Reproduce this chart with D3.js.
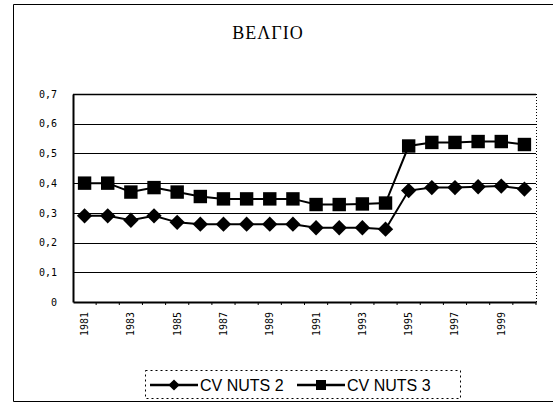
<!DOCTYPE html>
<html>
<head>
<meta charset="utf-8">
<script src="https://cdn.jsdelivr.net/npm/d3@7"></script>
<style>
  body { margin: 0; background: #fff; }
  svg { display: block; }
</style>
</head>
<body>
<svg id="chart" width="556" height="410"></svg>
<script>
// data
const years = d3.range(1981, 2001);
const cvNuts2 = [0.29, 0.29, 0.275, 0.29, 0.268, 0.262, 0.262, 0.262, 0.262, 0.262,
                 0.25, 0.25, 0.25, 0.245, 0.375, 0.385, 0.385, 0.388, 0.39, 0.38];
const cvNuts3 = [0.40, 0.40, 0.37, 0.385, 0.37, 0.355, 0.347, 0.347, 0.347, 0.347,
                 0.328, 0.328, 0.33, 0.333, 0.525, 0.537, 0.537, 0.54, 0.54, 0.53];
const yTicks = [0, 0.1, 0.2, 0.3, 0.4, 0.5, 0.6, 0.7];
const seriesNames = ["CV NUTS 2", "CV NUTS 3"];

const svg = d3.select("#chart");
const plot = { left: 73, right: 536, top: 94, bottom: 302 };

// outer frame (left, top, bottom edges of the scan)
svg.append("path")
  .attr("d", "M553,4.5H13.5V401.5H553")
  .attr("fill", "none")
  .attr("stroke", "#000")
  .attr("stroke-width", 1);

svg.append("text")
  .attr("x", 268)
  .attr("y", 39)
  .attr("text-anchor", "middle")
  .attr("font-family", "Liberation Serif, DejaVu Serif, serif")
  .attr("font-size", 18)
  .attr("letter-spacing", 1)
  .text("ΒΕΛΓΙΟ");

const x = d3.scaleBand().domain(years).range([plot.left, plot.right]);
const y = d3.scaleLinear().domain([0, 0.7]).range([plot.bottom, plot.top]);

// gridlines
svg.append("g")
  .selectAll("line")
  .data(yTicks.filter(d => d > 0))
  .join("line")
  .attr("x1", plot.left)
  .attr("x2", plot.right)
  .attr("y1", d => Math.round(y(d)) + 0.5)
  .attr("y2", d => Math.round(y(d)) + 0.5)
  .attr("stroke", "#000")
  .attr("stroke-width", 1);

// right border dotted
svg.append("line")
  .attr("x1", plot.right + 0.5).attr("x2", plot.right + 0.5)
  .attr("y1", plot.top).attr("y2", plot.bottom)
  .attr("stroke", "#000")
  .attr("stroke-dasharray", "1,2");

// y axis
const yAxis = svg.append("g")
  .attr("transform", `translate(${plot.left},0)`)
  .call(d3.axisLeft(y).tickValues(yTicks).tickSize(0).tickPadding(16)
    .tickFormat(d => d === 0 ? "0" : d3.format(".1f")(d).replace(".", ",")));
yAxis.select(".domain").attr("stroke-width", 2);
yAxis.selectAll("text")
  .attr("font-family", "DejaVu Sans Mono, monospace")
  .attr("font-size", 10)
  .attr("fill", "#000");

// x axis
const xAxis = svg.append("g")
  .attr("transform", `translate(0,${plot.bottom})`)
  .call(d3.axisBottom(x)
    .tickValues(years.filter((d, i) => i % 2 === 0))
    .tickSize(0)
    .tickFormat(d3.format("d")));
xAxis.select(".domain").attr("stroke-width", 2);
xAxis.selectAll("text")
  .attr("font-family", "DejaVu Sans Mono, monospace")
  .attr("font-size", 10)
  .attr("fill", "#000")
  .attr("text-anchor", "end")
  .attr("dy", "0.35em")
  .attr("transform", "translate(0,10) rotate(-90)")
  .attr("x", 0)
  .attr("y", 0);
// small tick marks between categories
svg.append("g")
  .selectAll("line")
  .data(years)
  .join("line")
  .attr("x1", d => x(d) + x.bandwidth())
  .attr("x2", d => x(d) + x.bandwidth())
  .attr("y1", plot.bottom)
  .attr("y2", plot.bottom + 3)
  .attr("stroke", "#000");

// top border
svg.append("line")
  .attr("x1", plot.left).attr("x2", plot.right)
  .attr("y1", y(0.7) + 0.5).attr("y2", y(0.7) + 0.5)
  .attr("stroke", "#000")
  .attr("stroke-width", 1.5);

const cx = d => x(d) + x.bandwidth() / 2;
const line = d3.line().x(d => cx(d[0])).y(d => y(d[1]));

const diamond = d3.symbol().type(d3.symbolDiamond2).size(150);
const square = d3.symbol().type(d3.symbolSquare).size(180);

[cvNuts2, cvNuts3].forEach((vals, si) => {
  const pts = years.map((yr, i) => [yr, vals[i]]);
  svg.append("path")
    .attr("d", line(pts))
    .attr("fill", "none")
    .attr("stroke", "#000")
    .attr("stroke-width", 2);
  svg.append("g")
    .selectAll("path")
    .data(pts)
    .join("path")
    .attr("transform", d => `translate(${cx(d[0])},${y(d[1])})`)
    .attr("d", si === 0 ? diamond() : square())
    .attr("fill", "#000");
});

// legend
const legend = svg.append("g");
legend.append("rect")
  .attr("x", 145.5).attr("y", 370.5)
  .attr("width", 315).attr("height", 28)
  .attr("fill", "none")
  .attr("stroke", "#000")
  .attr("stroke-dasharray", "2,3");

const legendItems = [
  { name: seriesNames[0], x0: 150 },
  { name: seriesNames[1], x0: 297 }
];
legendItems.forEach((it, i) => {
  const ly = 385;
  legend.append("line")
    .attr("x1", it.x0).attr("x2", it.x0 + 48)
    .attr("y1", ly).attr("y2", ly)
    .attr("stroke", "#000").attr("stroke-width", 2.5);
  legend.append("path")
    .attr("transform", `translate(${it.x0 + 24},${ly})`)
    .attr("d", i === 0 ? d3.symbol().type(d3.symbolDiamond2).size(80)() : d3.symbol().type(d3.symbolSquare).size(100)())
    .attr("fill", "#000");
  legend.append("text")
    .attr("x", it.x0 + 50)
    .attr("y", ly + 6)
    .attr("font-family", "Liberation Sans Narrow, Liberation Sans, sans-serif")
    .attr("font-size", 16)
    .attr("fill", "#000")
    .text(it.name);
});
</script>
</body>
</html>
